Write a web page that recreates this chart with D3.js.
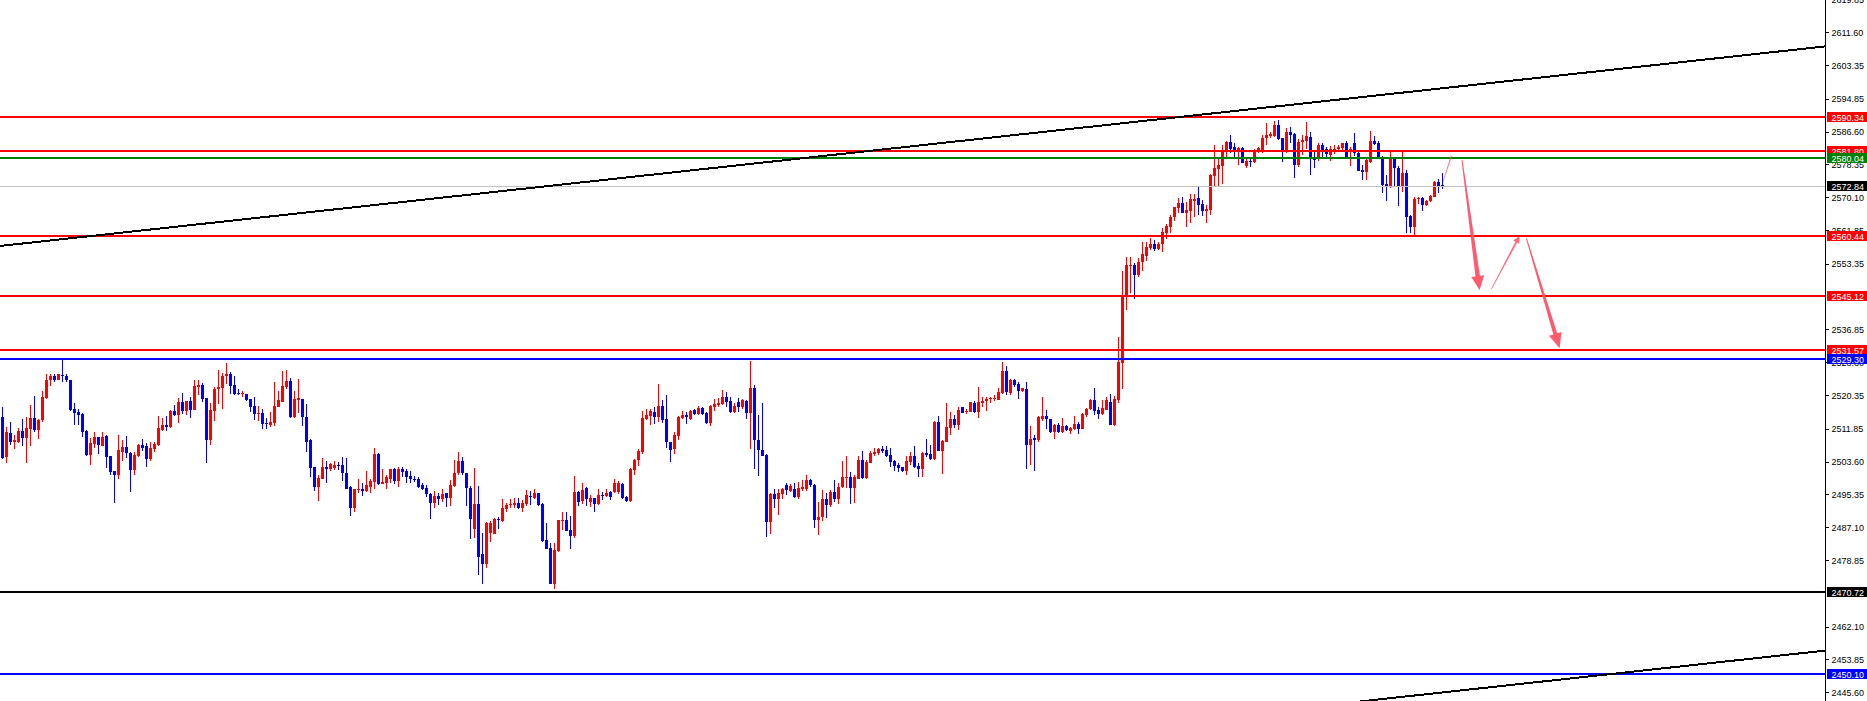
<!DOCTYPE html>
<html><head><meta charset="utf-8">
<script src="https://cdn.jsdelivr.net/npm/d3@7"></script>
<style>html,body{margin:0;padding:0;background:#fff;overflow:hidden}svg{display:block}</style>
</head><body>
<svg id="chart" width="1867" height="701"></svg>
<script>
// ---------- DATA ----------
const opens = [
2514.9,2504.7,2510.8,2508.6,2508.5,2511.3,2509.6,2511.9,2514.6,2511.5,2514.1,2519.5,2524.0,2525.0,2524.1,2525.4,2525.0,2524.1,2516.8,2516.1,
2515.6,2511.3,2505.3,2508.0,2509.8,2507.6,2510.0,2504.9,2501.2,2500.3,2506.1,2507.3,2505.8,2501.5,2505.0,2507.8,2507.5,2504.2,2506.8,2507.8,
2511.5,2512.8,2512.2,2516.3,2515.3,2518.5,2516.3,2518.8,2516.6,2522.4,2522.9,2519.6,2508.9,2516.4,2521.9,2522.0,2525.0,2525.6,2522.9,2520.9,
2520.5,2520.6,2519.3,2517.6,2515.7,2515.8,2513.3,2512.9,2513.3,2517.4,2518.7,2522.4,2523.9,2514.7,2519.1,2519.3,2514.8,2508.9,2502.2,2497.3,
2499.3,2502.2,2501.7,2502.0,2502.7,2502.7,2500.7,2497.3,2491.8,2496.5,2496.7,2496.2,2497.3,2498.5,2505.6,2498.0,2498.3,2499.3,2501.7,2498.8,
2501.7,2501.2,2500.0,2499.3,2499.3,2497.6,2497.0,2495.5,2493.2,2495.0,2494.3,2495.7,2494.5,2497.5,2500.6,2503.8,2500.7,2497.0,2486.7,2492.9,
2480.4,2477.9,2485.6,2485.4,2489.2,2488.7,2491.7,2492.7,2492.7,2493.2,2491.9,2492.9,2495.0,2494.4,2495.7,2492.9,2483.9,2481.9,2472.8,2481.0,
2488.7,2488.9,2486.4,2484.9,2496.0,2493.7,2497.0,2493.4,2494.4,2493.0,2495.2,2495.0,2496.0,2496.0,2496.0,2498.0,2494.8,2493.8,2501.6,2504.0,
2506.0,2514.3,2515.1,2516.1,2514.8,2517.6,2514.3,2508.5,2506.7,2510.0,2514.6,2515.3,2514.3,2516.6,2515.6,2517.1,2515.8,2513.3,2517.4,2517.8,
2518.1,2519.8,2518.8,2516.1,2518.6,2517.4,2518.8,2515.8,2522.1,2509.0,2506.5,2505.3,2488.4,2495.5,2494.3,2495.5,2497.7,2496.3,2496.8,2494.8,
2496.8,2496.8,2499.0,2497.7,2488.8,2489.7,2494.1,2492.6,2495.9,2494.1,2497.2,2499.6,2499.7,2497.0,2499.3,2504.0,2499.5,2503.3,2505.6,2505.8,
2506.8,2506.5,2505.3,2503.8,2502.7,2502.2,2501.2,2503.5,2505.1,2502.5,2501.8,2505.8,2505.5,2504.2,2513.6,2506.3,2508.5,2512.1,2514.3,2512.9,
2517.3,2516.2,2516.1,2518.4,2516.1,2518.3,2518.8,2519.3,2519.3,2519.1,2520.9,2526.4,2520.9,2524.1,2523.1,2521.3,2521.9,2507.8,2509.6,2509.1,
2514.4,2515.1,2514.3,2511.0,2512.8,2511.0,2512.6,2511.3,2511.8,2513.1,2511.8,2515.4,2516.7,2519.1,2516.6,2515.6,2516.6,2518.6,2512.8,2519.2,
2528.3,2545.1,2552.8,2553.0,2550.4,2553.7,2555.3,2557.2,2558.2,2557.1,2558.2,2561.0,2562.5,2565.0,2567.5,2568.6,2566.2,2566.7,2569.2,2569.8,
2568.3,2566.7,2566.9,2575.5,2577.2,2578.0,2582.0,2583.9,2582.6,2582.0,2582.4,2578.0,2579.2,2579.0,2581.4,2581.6,2584.9,2585.5,2585.5,2588.3,
2584.9,2582.0,2586.6,2585.9,2578.3,2584.1,2584.2,2585.3,2579.8,2579.6,2583.2,2582.1,2580.7,2582.0,2582.1,2582.4,2583.6,2582.0,2583.8,2581.3,
2576.9,2576.5,2578.9,2584.2,2583.8,2580.3,2573.3,2572.6,2580.0,2577.5,2572.9,2576.1,2565.4,2562.7,2569.6,2569.9,2568.1,2569.1,2570.2,2573.9,
2573.2];
const highs = [
2517.4,2512.3,2513.6,2510.3,2512.0,2514.3,2514.9,2517.8,2520.1,2514.3,2521.4,2525.6,2525.6,2525.6,2525.6,2529.2,2525.6,2524.2,2518.3,2516.8,
2515.8,2511.5,2509.5,2511.0,2509.9,2511.0,2510.2,2505.1,2501.3,2510.3,2508.9,2510.0,2506.1,2506.0,2508.1,2509.3,2508.2,2508.4,2508.4,2515.1,
2514.6,2515.0,2516.6,2517.8,2519.7,2520.8,2518.9,2519.8,2524.1,2524.1,2523.3,2519.7,2518.3,2522.3,2526.6,2525.8,2528.3,2526.1,2525.0,2521.9,
2521.4,2520.7,2519.4,2519.9,2517.6,2516.8,2514.6,2516.1,2523.5,2521.4,2526.4,2526.6,2524.6,2521.4,2524.4,2519.4,2518.1,2509.4,2502.3,2500.2,
2504.5,2503.8,2503.3,2503.8,2503.5,2504.8,2504.5,2497.5,2496.8,2499.2,2498.3,2501.2,2499.2,2507.0,2505.7,2501.7,2500.2,2501.8,2502.0,2502.2,
2502.3,2501.7,2501.2,2500.0,2499.7,2498.3,2497.7,2495.8,2496.2,2495.8,2496.7,2495.8,2499.0,2504.1,2506.0,2504.7,2500.8,2497.5,2502.0,2497.5,
2485.6,2488.4,2488.7,2489.3,2489.7,2494.2,2493.2,2494.2,2494.5,2494.5,2493.9,2496.5,2496.2,2496.7,2495.8,2493.2,2488.2,2483.1,2483.1,2488.9,
2490.9,2490.9,2489.9,2500.0,2496.1,2498.2,2497.1,2495.2,2494.5,2496.7,2496.0,2496.7,2496.1,2499.2,2498.7,2498.1,2495.0,2502.0,2504.3,2506.8,
2516.3,2516.8,2516.8,2517.3,2523.1,2519.1,2520.3,2508.6,2511.1,2515.1,2516.3,2516.1,2516.6,2516.9,2517.6,2517.3,2516.1,2517.8,2519.3,2519.7,
2521.6,2521.1,2519.8,2518.3,2519.6,2519.3,2519.1,2528.9,2522.9,2515.3,2518.3,2505.5,2495.6,2496.8,2496.8,2497.0,2498.2,2498.0,2498.2,2498.5,
2499.0,2500.3,2499.2,2498.0,2493.4,2496.5,2495.6,2496.4,2499.0,2498.3,2503.8,2505.1,2501.0,2500.2,2505.1,2506.3,2503.9,2506.3,2507.0,2507.0,
2507.4,2507.4,2506.9,2503.9,2503.2,2502.3,2505.1,2506.1,2507.5,2503.3,2505.9,2509.3,2507.8,2513.7,2515.1,2508.9,2518.3,2516.1,2515.3,2517.2,
2517.4,2516.8,2518.7,2518.8,2522.3,2519.9,2519.9,2519.9,2520.4,2522.1,2528.7,2527.6,2524.4,2524.4,2523.6,2522.2,2523.7,2512.6,2510.3,2515.1,
2519.9,2516.6,2514.4,2513.1,2513.4,2514.6,2512.7,2512.3,2515.1,2513.6,2515.9,2517.1,2519.3,2522.1,2517.4,2519.1,2519.9,2520.6,2520.1,2534.9,
2551.5,2555.0,2555.0,2553.5,2554.7,2558.7,2558.8,2559.8,2559.3,2558.9,2562.3,2563.3,2565.5,2567.7,2570.0,2570.2,2568.9,2570.9,2570.9,2572.7,
2569.4,2568.1,2575.9,2583.2,2579.9,2583.2,2584.3,2585.7,2583.6,2582.6,2582.6,2579.6,2579.8,2582.1,2582.8,2585.7,2588.8,2586.6,2589.3,2589.5,
2584.9,2587.4,2587.8,2586.2,2584.7,2585.7,2589.0,2586.6,2581.5,2583.8,2583.8,2582.8,2583.0,2583.1,2583.1,2583.8,2584.3,2582.8,2586.2,2581.8,
2578.2,2579.6,2586.7,2585.6,2584.2,2580.5,2575.7,2581.8,2580.3,2577.9,2581.8,2576.9,2565.7,2570.2,2570.2,2570.1,2569.4,2570.7,2574.2,2574.6,
2576.1];
const lows = [
2504.2,2503.3,2507.8,2506.7,2508.3,2507.4,2503.3,2507.4,2511.1,2509.3,2513.6,2519.3,2522.6,2523.5,2524.0,2523.7,2523.5,2516.3,2512.8,2512.8,
2509.9,2505.0,2502.7,2507.1,2505.5,2507.4,2502.0,2500.1,2493.3,2499.1,2503.7,2504.4,2496.0,2500.1,2504.8,2506.3,2502.3,2503.8,2506.1,2507.6,
2511.2,2511.2,2512.0,2515.1,2513.4,2515.5,2515.4,2514.6,2516.5,2520.4,2518.7,2503.3,2507.8,2513.8,2518.1,2516.9,2523.1,2520.6,2520.4,2520.3,
2519.8,2518.9,2516.0,2514.1,2513.8,2511.8,2511.8,2512.2,2512.6,2517.2,2518.5,2521.9,2514.6,2514.6,2515.7,2512.5,2506.1,2499.7,2496.3,2493.7,
2499.2,2498.1,2501.3,2501.5,2501.5,2498.8,2496.6,2489.8,2491.0,2495.8,2495.0,2495.9,2495.8,2496.7,2497.8,2497.9,2496.7,2498.3,2497.9,2497.2,
2499.6,2498.3,2498.3,2498.5,2497.0,2496.5,2494.7,2489.2,2492.0,2492.8,2493.4,2492.2,2492.4,2497.3,2500.2,2500.2,2492.3,2484.1,2484.3,2475.1,
2472.8,2476.8,2483.4,2485.3,2486.7,2488.4,2490.9,2492.0,2491.8,2491.7,2490.9,2492.3,2492.8,2494.3,2492.5,2483.4,2481.5,2472.7,2471.5,2480.8,
2486.4,2486.1,2481.6,2484.4,2492.3,2492.9,2492.3,2492.2,2490.9,2492.6,2493.9,2494.7,2494.0,2495.8,2495.5,2494.3,2493.5,2493.5,2500.2,2502.5,
2505.5,2514.1,2512.8,2513.1,2513.6,2513.3,2507.0,2503.5,2505.5,2509.0,2514.3,2513.1,2514.1,2515.4,2515.3,2515.4,2513.1,2512.5,2516.3,2517.3,
2517.8,2517.3,2515.8,2515.8,2516.1,2516.8,2514.3,2506.8,2501.7,2500.0,2505.0,2484.6,2485.4,2491.8,2490.2,2494.3,2495.3,2495.9,2494.5,2494.3,
2496.3,2496.2,2497.1,2487.0,2485.2,2488.7,2489.5,2492.1,2493.4,2492.9,2497.0,2497.0,2493.0,2493.3,2499.2,2499.2,2499.1,2503.2,2505.0,2505.3,
2505.8,2504.8,2502.3,2501.2,2501.1,2501.0,2500.3,2502.8,2502.1,2499.7,2499.8,2504.8,2504.1,2503.9,2506.2,2500.5,2508.4,2510.3,2512.0,2511.6,
2515.8,2515.6,2516.0,2515.8,2514.6,2517.4,2516.4,2518.4,2518.8,2519.0,2520.6,2520.4,2520.4,2522.4,2519.4,2521.1,2501.7,2502.8,2501.2,2508.4,
2513.9,2511.7,2510.9,2509.3,2510.9,2510.9,2511.4,2510.6,2511.6,2510.5,2511.7,2514.9,2516.6,2515.2,2514.2,2515.2,2516.5,2512.7,2512.5,2518.3,
2521.8,2541.6,2545.9,2544.6,2550.1,2551.6,2554.1,2556.8,2556.6,2556.7,2556.2,2559.5,2561.2,2564.2,2566.0,2566.0,2562.7,2563.5,2565.2,2565.5,
2565.4,2563.5,2565.7,2572.9,2572.9,2573.3,2580.3,2581.1,2580.3,2578.2,2578.6,2577.4,2577.8,2578.6,2581.1,2581.1,2583.2,2584.9,2585.2,2584.6,
2579.0,2581.1,2583.8,2575.0,2577.8,2580.7,2582.2,2575.8,2577.4,2579.3,2580.1,2579.6,2579.3,2581.0,2581.5,2582.0,2580.1,2578.0,2580.5,2576.7,
2574.4,2574.3,2578.6,2583.2,2579.9,2571.1,2569.2,2572.3,2572.7,2567.9,2571.5,2561.2,2561.0,2560.4,2568.4,2566.7,2567.9,2568.9,2570.1,2571.1,
2572.1];
const closes = [
2504.4,2511.1,2508.5,2508.9,2511.3,2509.6,2512.0,2514.6,2511.5,2514.1,2519.8,2524.1,2525.0,2524.1,2525.5,2525.0,2524.0,2516.6,2515.9,2515.4,
2511.1,2505.3,2508.2,2509.8,2507.8,2509.8,2504.8,2501.1,2500.3,2506.5,2507.3,2505.8,2501.5,2505.2,2507.8,2507.1,2504.2,2507.1,2508.0,2512.0,
2512.8,2512.2,2516.3,2515.3,2518.5,2516.3,2518.8,2516.6,2522.6,2522.9,2519.3,2508.9,2516.6,2521.9,2522.4,2525.1,2525.6,2522.7,2520.6,2520.6,
2520.8,2519.1,2517.4,2515.6,2515.8,2513.1,2513.0,2513.6,2517.6,2519.1,2522.6,2523.9,2514.7,2519.3,2519.6,2514.7,2508.5,2502.1,2497.3,2499.5,
2502.2,2501.8,2503.1,2502.7,2502.6,2500.6,2496.8,2491.8,2496.7,2496.7,2496.3,2497.6,2498.7,2505.5,2498.0,2498.5,2499.7,2501.7,2498.8,2501.7,
2501.1,2499.7,2499.1,2499.1,2497.3,2496.8,2495.5,2493.2,2495.0,2494.3,2495.5,2494.5,2497.7,2500.7,2503.8,2500.6,2497.0,2489.2,2492.9,2479.6,
2477.9,2488.2,2488.2,2489.2,2488.9,2491.9,2492.7,2492.9,2493.2,2491.9,2493.2,2495.2,2494.8,2495.7,2492.8,2483.7,2481.6,2472.8,2481.4,2488.8,
2488.9,2486.2,2484.9,2496.0,2493.4,2496.5,2494.3,2494.4,2493.0,2495.2,2495.0,2495.7,2494.7,2498.1,2498.3,2494.5,2493.8,2501.8,2504.1,2506.3,
2514.6,2515.3,2516.2,2514.8,2517.6,2514.1,2508.4,2506.5,2510.3,2514.8,2515.3,2514.8,2516.3,2515.6,2517.0,2515.6,2513.3,2517.6,2518.1,2518.3,
2519.8,2518.6,2516.1,2517.6,2517.4,2519.1,2515.8,2522.1,2508.9,2506.4,2505.1,2488.4,2495.5,2494.3,2495.8,2496.8,2496.5,2497.5,2494.8,2497.0,
2497.1,2499.0,2497.6,2488.8,2489.7,2494.1,2492.6,2495.9,2494.1,2497.2,2499.7,2499.7,2497.0,2499.7,2504.0,2499.5,2503.5,2505.8,2506.1,2506.8,
2506.3,2505.1,2503.5,2502.6,2502.0,2501.2,2503.8,2505.1,2502.3,2501.8,2505.8,2505.3,2504.2,2513.6,2506.3,2508.8,2512.3,2514.3,2512.9,2516.6,
2515.9,2516.4,2518.6,2516.1,2518.7,2518.8,2519.4,2519.6,2519.7,2521.1,2526.4,2521.0,2524.1,2522.9,2521.4,2522.0,2507.8,2509.3,2509.1,2514.7,
2515.1,2514.2,2511.0,2512.8,2511.0,2512.6,2511.6,2512.0,2513.1,2511.8,2515.6,2516.8,2519.1,2516.3,2515.6,2517.1,2519.1,2512.8,2519.3,2528.6,
2545.1,2553.0,2553.1,2550.4,2553.7,2555.8,2557.5,2558.2,2557.1,2558.2,2561.3,2562.8,2565.2,2567.6,2568.6,2566.2,2566.9,2569.6,2569.6,2568.1,
2566.7,2567.1,2575.7,2577.4,2578.2,2582.0,2583.9,2582.2,2582.0,2582.4,2578.8,2579.2,2579.0,2581.7,2582.4,2585.1,2585.7,2585.9,2588.3,2584.7,
2582.0,2586.6,2585.7,2578.3,2584.1,2584.6,2585.5,2579.6,2579.5,2583.2,2582.0,2580.9,2582.1,2582.3,2582.6,2583.6,2580.2,2582.1,2581.3,2576.8,
2576.5,2579.5,2584.2,2583.5,2580.1,2573.2,2572.6,2580.0,2577.4,2572.9,2576.1,2565.2,2562.7,2569.6,2569.9,2568.1,2569.2,2570.4,2574.0,2572.6,
2572.84];

const tickLabels = ["2619.85","2611.60","2603.35","2594.85","2586.60","2578.35","2570.10","2561.85","2553.35",
                    "2536.85","2528.60","2520.35","2511.85","2503.60","2495.35","2487.10","2478.85","2462.10","2453.85","2445.60"];
const levelPrices = [2590.34, 2581.80, 2580.04, 2560.44, 2545.12, 2531.57, 2529.30, 2470.72, 2450.10];
const levelKinds  = ["resist","resist","pivot","resist","resist","resist","support","floor","support"];
const bidPrice = 2572.84;
// trend channel anchors: [candle index, price]
const trendUpper = [[0, 2557.88], [450, 2607.38]];
const trendLower = [[0, 2405.92], [450, 2455.42]];
// forecast arrows: [candle index, price] start -> tip
const forecastPaths = [
  [[360.25, 2573.99], [362.35, 2580.46]],
  [[365.0, 2579.45], [369.4, 2546.75]],
  [[372.35, 2547.0], [379.4, 2560.34]],
  [[381.1, 2559.76], [389.4, 2532.09]]
];

// ---------- DRAWING ----------
const W = 1867, H = 701, AX = 1825;
const N = opens.length;
const svg = d3.select("#chart");
const x = d3.scaleLinear().domain([0, N - 1]).range([2, 1442]);
const y = d3.scaleLinear().domain([2443.38, 2619.69]).range([H, 0]);

const kindColor = {resist:"#ff0000", pivot:"#008000", support:"#0000ff", floor:"#000000"};
const UP = "#ff0000", DOWN = "#0000ff", ARROW = "#ff5a6e";

svg.append("rect").attr("width", W).attr("height", H).attr("fill", "#fff");
svg.append("clipPath").attr("id", "plotClip").append("rect").attr("x", 0).attr("y", 0).attr("width", AX).attr("height", H);

const plot = svg.append("g").attr("clip-path", "url(#plotClip)");

// candles
const candles = d3.range(N).map(i => ({i, o: opens[i], h: highs[i], l: lows[i], c: closes[i]}));
const cg = plot.append("g").attr("shape-rendering", "crispEdges");
const cand = cg.selectAll("g.c").data(candles).join("g").attr("class", "c");
cand.append("rect")
  .attr("x", d => Math.round(x(d.i)))
  .attr("width", 1)
  .attr("y", d => Math.round(y(d.h)))
  .attr("height", d => Math.max(1, Math.round(y(d.l)) - Math.round(y(d.h))))
  .attr("fill", d => d.c >= d.o ? UP : DOWN);
cand.append("rect")
  .attr("x", d => Math.round(x(d.i)) - 1)
  .attr("width", 3)
  .attr("y", d => Math.round(y(Math.max(d.o, d.c))))
  .attr("height", d => Math.max(1, Math.round(y(Math.min(d.o, d.c))) - Math.round(y(Math.max(d.o, d.c)))))
  .attr("fill", d => d.c >= d.o ? UP : DOWN);

// bid line
plot.append("rect").attr("shape-rendering", "crispEdges")
  .attr("x", 0).attr("width", AX).attr("y", Math.round(y(bidPrice))).attr("height", 1).attr("fill", "#c0c0c0");

// level lines
plot.append("g").attr("shape-rendering", "crispEdges").selectAll("rect")
  .data(levelPrices.map((p, k) => ({p, kind: levelKinds[k]})))
  .join("rect")
  .attr("x", 0).attr("width", AX)
  .attr("y", d => Math.round(y(d.p)) - 1).attr("height", 2)
  .attr("fill", d => kindColor[d.kind]);

// trend channel
function extend(anchors) {
  const [[i0, p0], [i1, p1]] = anchors;
  const s = (p1 - p0) / (i1 - i0);
  const ia = x.invert(0), ib = x.invert(AX);
  return [[0, y(p0 + (ia - i0) * s)], [AX, y(p0 + (ib - i0) * s)]];
}
[trendUpper, trendLower].forEach(t => {
  const pts = extend(t);
  plot.append("line").attr("x1", pts[0][0]).attr("y1", pts[0][1]).attr("x2", pts[1][0]).attr("y2", pts[1][1])
    .attr("stroke", "#000").attr("stroke-width", 2).attr("shape-rendering", "crispEdges");
});

// forecast arrows
const arrowStyle = [
  {w0: 0.6, w1: 1.3, hl: 0, hw: 0, op: 0.8},
  {w0: 1.0, w1: 4.5, hl: 14, hw: 6.5, op: 1},
  {w0: 0.6, w1: 2.0, hl: 7, hw: 3.5, op: 0.9},
  {w0: 1.0, w1: 4.0, hl: 15, hw: 6.5, op: 1}
];
forecastPaths.forEach((pth, k) => {
  const st = arrowStyle[k];
  const S = [x(pth[0][0]), y(pth[0][1])], E = [x(pth[1][0]), y(pth[1][1])];
  const dx = E[0] - S[0], dy = E[1] - S[1], len = Math.hypot(dx, dy);
  const ux = dx / len, uy = dy / len, nx = -uy, ny = ux;
  const B = [E[0] - ux * st.hl, E[1] - uy * st.hl];
  let pts;
  if (st.hl > 0) {
    pts = [
      [S[0] + nx * st.w0 / 2, S[1] + ny * st.w0 / 2],
      [B[0] + nx * st.w1 / 2, B[1] + ny * st.w1 / 2],
      [B[0] + nx * st.hw, B[1] + ny * st.hw],
      E,
      [B[0] - nx * st.hw, B[1] - ny * st.hw],
      [B[0] - nx * st.w1 / 2, B[1] - ny * st.w1 / 2],
      [S[0] - nx * st.w0 / 2, S[1] - ny * st.w0 / 2]
    ];
  } else {
    pts = [
      [S[0] + nx * st.w0 / 2, S[1] + ny * st.w0 / 2],
      [E[0] + nx * st.w1 / 2, E[1] + ny * st.w1 / 2],
      [E[0] - nx * st.w1 / 2, E[1] - ny * st.w1 / 2],
      [S[0] - nx * st.w0 / 2, S[1] - ny * st.w0 / 2]
    ];
  }
  plot.append("path").attr("d", d3.line()(pts) + "Z").attr("fill", ARROW).attr("fill-opacity", st.op);
});

// price axis
const axg = svg.append("g");
axg.append("rect").attr("x", AX).attr("y", 0).attr("width", 1).attr("height", H).attr("fill", "#000").attr("shape-rendering", "crispEdges");
const font = "'Liberation Sans', Arial, sans-serif";
tickLabels.forEach(t => {
  const v = +t, yy = Math.round(y(v));
  axg.append("rect").attr("x", AX + 1).attr("y", yy).attr("width", 3).attr("height", 1).attr("fill", "#000").attr("shape-rendering", "crispEdges");
  axg.append("text").attr("x", 1831.5).attr("y", y(v) + 3.6).attr("font-family", font).attr("font-size", 9)
    .attr("fill", "#000").text(t);
});

// level price tags (drawn on top of the tick labels)
const tags = levelPrices.map((p, k) => ({p, color: kindColor[levelKinds[k]], label: p.toFixed(2)}));
tags.splice(3, 0, {p: bidPrice, color: "#000", label: bidPrice.toFixed(2)});
tags.forEach(t => {
  const yy = Math.round(y(t.p));
  axg.append("rect").attr("x", 1827).attr("y", yy - 5).attr("width", 40).attr("height", 10)
    .attr("fill", t.color).attr("shape-rendering", "crispEdges");
  axg.append("text").attr("x", 1831.5).attr("y", yy + 3.6).attr("font-family", font).attr("font-size", 9)
    .attr("fill", "#fff").text(t.label);
});
</script>
</body></html>
